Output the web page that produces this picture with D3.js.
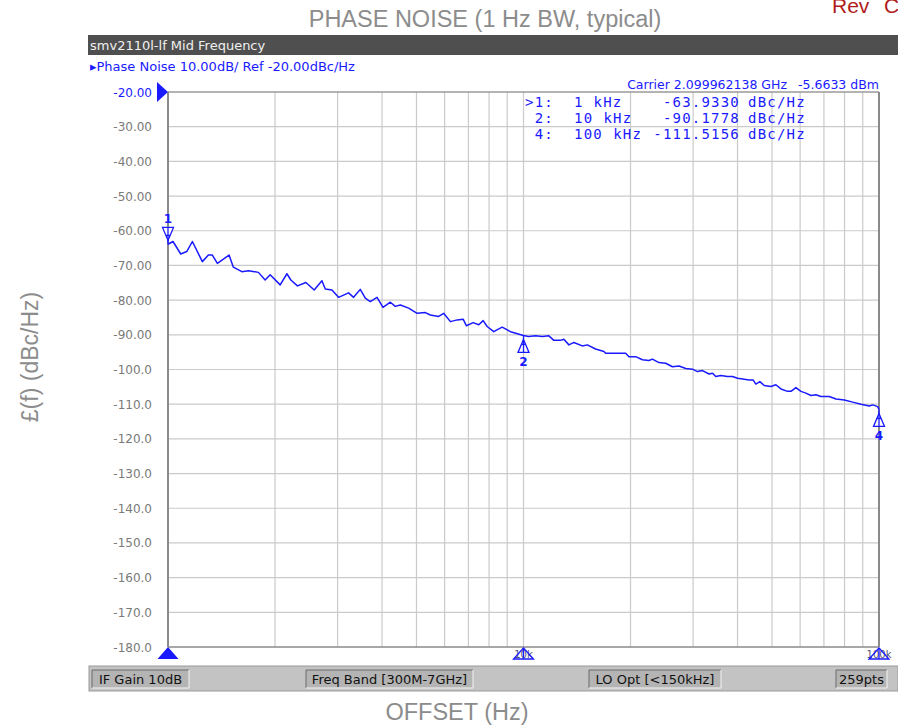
<!DOCTYPE html>
<html>
<head>
<meta charset="utf-8">
<script src="https://cdn.jsdelivr.net/npm/d3@7"></script>
<style>
  html, body { margin: 0; padding: 0; background: #ffffff; }
  svg { display: block; }
</style>
</head>
<body>
<svg id="chart" width="898" height="726"></svg>
<script>
// ---------------- DATA ----------------
const freqHz = [1000,1033,1086,1129,1171,1249,1299,1333,1377,1485,1527,1613,1684,1796,1876,1938,2068,2160,2216,2313,2443,2578,2710,2769,2892,3018,3220,3327,3474,3589,3707,3872,4025,4221,4359,4503,4753,5020,5297,5470,5772,5963,6229,6506,6764,6910,7218,7484,7700,7902,8247,8710,9192,10000,10330,10810,11290,11790,12170,12710,12990,13420,13860,14640,15120,15950,16840,17020,19380,19800,20680,21600,22540,23040,24050,25120,26240,27390,28600,29880,30850,31870,33270,34010,34740,35890,37480,38710,39990,43120,44250,45030,46220,47530,49630,51280,52970,55330,56530,58370,60300,62290,64350,66450,68650,72440,75680,79880,84340,88990,93910,96010,99150,100000];
const phaseNoise = [-63.9,-63.1,-66.7,-66.0,-63.1,-68.9,-67.0,-67.0,-69.4,-67.0,-70.5,-71.8,-71.5,-72.0,-74.2,-72.7,-75.6,-72.4,-74.2,-75.9,-74.9,-77.1,-74.4,-76.8,-77.1,-79.2,-77.9,-79.2,-76.9,-79.4,-80.4,-79.2,-82.1,-80.6,-81.8,-81.4,-82.3,-83.8,-83.6,-84.3,-84.7,-83.8,-86.2,-85.7,-85.5,-87.4,-86.5,-87.1,-85.9,-87.6,-89.1,-87.8,-89.1,-90.2,-90.5,-90.3,-90.5,-90.3,-91.6,-91.6,-91.3,-92.9,-92.2,-93.2,-92.9,-94.1,-94.8,-95.3,-95.3,-96.3,-96.3,-97.2,-97.4,-97.0,-98.0,-98.2,-99.2,-99.0,-99.7,-99.9,-100.6,-100.3,-101.3,-101.1,-102.0,-101.7,-102.0,-102.0,-102.5,-103.0,-103.0,-104.2,-103.5,-104.6,-104.9,-104.4,-105.6,-106.3,-106.3,-105.2,-106.3,-106.8,-107.5,-107.3,-107.8,-107.8,-108.5,-108.8,-109.4,-110.0,-110.5,-110.2,-110.7,-111.5];

const yTicks = [-20,-30,-40,-50,-60,-70,-80,-90,-100,-110,-120,-130,-140,-150,-160,-170,-180];
const yTickLabels = ["-20.00","-30.00","-40.00","-50.00","-60.00","-70.00","-80.00","-90.00","-100.0","-110.0","-120.0","-130.0","-140.0","-150.0","-160.0","-170.0","-180.0"];
const xGridFreqs = [2000,3000,4000,5000,6000,7000,8000,9000,10000,20000,30000,40000,50000,60000,70000,80000,90000];
const xStimFreqs = [1000,10000,100000];
const xStimLabels = ["1k","10k","100k"];

const markerIds = ["1","2","4"];
const markerTableIds = [">1:","2:","4:"];
const markerFreqs = [1000,10000,100000];
const markerFreqNums = ["1","10","100"];
const markerValues = [-63.9330,-90.1778,-111.5156];
const markerValueLabels = ["-63.9330","-90.1778","-111.5156"];

const titleText = "PHASE NOISE (1 Hz BW, typical)";
const revWords = ["Rev", "C"];
const yLabelText = "£(f) (dBc/Hz)";
const xLabelText = "OFFSET (Hz)";
const headerText = "smv2110l-lf Mid Frequency";
const traceText = "\u25B8Phase Noise 10.00dB/ Ref -20.00dBc/Hz";
const carrierText = "Carrier 2.099962138 GHz";
const carrierPower = "-5.6633 dBm";
const statusLabels = ["IF Gain 10dB","Freq Band [300M-7GHz]","LO Opt [<150kHz]","259pts"];

// ---------------- LAYOUT ----------------
const plotL = 168, plotR = 879, plotT = 92, plotB = 647;
const blue = "#1a1aff";
const svg = d3.select("#chart");

const x = d3.scaleLog().domain([1000, 100000]).range([plotL, plotR]);
const y = d3.scaleLinear().domain([-180, -20]).range([plotB, plotT]);

// Title and outer labels
svg.append("text").attr("x", 485).attr("y", 27).attr("text-anchor", "middle")
  .attr("font-family", "Liberation Sans, Arial, sans-serif").attr("font-size", 23.5)
  .attr("fill", "#8c8c8c").text(titleText);
const rev = svg.append("text").attr("y", 13)
  .attr("font-family", "Liberation Sans, Arial, sans-serif").attr("font-size", 21)
  .attr("fill", "#b01c1c");
rev.append("tspan").attr("x", 832).text(revWords[0]);
rev.append("tspan").attr("x", 884).text(revWords[1]);
svg.append("text").attr("transform", "translate(38,357) rotate(-90)").attr("text-anchor", "middle")
  .attr("font-family", "Liberation Sans, Arial, sans-serif").attr("font-size", 23)
  .attr("fill", "#8c8c8c").text(yLabelText);
svg.append("text").attr("x", 457).attr("y", 720).attr("text-anchor", "middle")
  .attr("font-family", "Liberation Sans, Arial, sans-serif").attr("font-size", 23.5)
  .attr("fill", "#8c8c8c").text(xLabelText);

// Header bar
svg.append("rect").attr("x", 88).attr("y", 35).attr("width", 810).attr("height", 20).attr("fill", "#4f4f4f");
svg.append("text").attr("x", 90).attr("y", 49.5)
  .attr("font-family", "DejaVu Sans, sans-serif").attr("font-size", 13).attr("fill", "#f0f0f0").text(headerText);
svg.append("text").attr("x", 90).attr("y", 70.5)
  .attr("font-family", "DejaVu Sans, sans-serif").attr("font-size", 13).attr("fill", blue).text(traceText);

// Grid
const grid = svg.append("g");
grid.selectAll("line.h").data(yTicks.filter(v => v > -180 && v < -20)).enter().append("line")
  .attr("x1", plotL).attr("x2", plotR).attr("y1", d => y(d)).attr("y2", d => y(d))
  .attr("stroke", "#cacaca").attr("stroke-width", 1.2);
grid.selectAll("line.v").data(xGridFreqs).enter().append("line")
  .attr("y1", plotT).attr("y2", plotB).attr("x1", d => x(d)).attr("x2", d => x(d))
  .attr("stroke", "#cacaca").attr("stroke-width", 1.2);

// Frame
svg.append("line").attr("x1", plotL).attr("x2", plotR).attr("y1", plotT).attr("y2", plotT).attr("stroke", "#9a9a9a").attr("stroke-width", 1.5);
svg.append("line").attr("x1", plotL).attr("x2", plotR).attr("y1", plotB).attr("y2", plotB).attr("stroke", "#8a8a8a").attr("stroke-width", 1.5);
svg.append("line").attr("x1", plotL).attr("x2", plotL).attr("y1", plotT).attr("y2", plotB).attr("stroke", "#8a8a8a").attr("stroke-width", 2);
svg.append("line").attr("x1", plotR).attr("x2", plotR).attr("y1", plotT).attr("y2", plotB).attr("stroke", "#8a8a8a").attr("stroke-width", 2);

// Y tick labels
svg.selectAll("text.ytick").data(yTicks).enter().append("text")
  .attr("x", 152).attr("y", d => y(d) + 4.5).attr("text-anchor", "end")
  .attr("font-family", "DejaVu Sans, sans-serif").attr("font-size", 12)
  .attr("fill", (d, i) => i === 0 ? blue : "#7a7a7a")
  .text((d, i) => yTickLabels[i]);

// Reference arrow
svg.append("path").attr("d", `M157,${y(-20) - 10} L168,${y(-20)} L157,${y(-20) + 10} Z`).attr("fill", blue);

// Trace
const pts = freqHz.map((f, i) => [f, phaseNoise[i]]);
const line = d3.line().x(d => x(d[0])).y(d => y(d[1]));
svg.append("path").datum(pts).attr("d", line).attr("fill", "none")
  .attr("stroke", blue).attr("stroke-width", 1.5).attr("stroke-linejoin", "round");

// Markers
markerIds.forEach((id, i) => {
  const mx = x(markerFreqs[i]), my = y(markerValues[i]);
  const g = svg.append("g").attr("fill", "none").attr("stroke", blue).attr("stroke-width", 1.3);
  const dir = i === 0 ? -1 : 1;
  const a = my + dir * 4, b = my + dir * 17;
  g.append("path").attr("d", `M${mx},${a} L${mx + 5.5},${b} L${mx - 5.5},${b} Z`).attr("fill", "#ffffff");
  g.append("line").attr("x1", mx).attr("x2", mx).attr("y1", my).attr("y2", b);
  g.append("line").attr("x1", mx - 2).attr("x2", mx + 2).attr("y1", my + dir * 9).attr("y2", my + dir * 9);
  svg.append("text").attr("x", mx).attr("y", i === 0 ? my - 21 : my + 31).attr("text-anchor", "middle")
    .attr("font-family", "DejaVu Sans, sans-serif").attr("font-size", 12).attr("font-weight", "bold")
    .attr("fill", blue).text(id);
});

// Stimulus markers at the bottom
xStimFreqs.forEach((f, i) => {
  const sx = x(f);
  if (i > 0) {
    svg.append("text").attr("x", sx).attr("y", 658).attr("text-anchor", "middle")
      .attr("font-family", "DejaVu Sans, sans-serif").attr("font-size", 10).attr("fill", "#55557a").text(xStimLabels[i]);
    const g = svg.append("g").attr("fill", "none").attr("stroke", blue).attr("stroke-width", 1.3);
    g.append("path").attr("d", `M${sx},${plotB + 1} L${sx + 10},${plotB + 12} L${sx - 10},${plotB + 12} Z`);
    g.append("line").attr("x1", sx).attr("x2", sx).attr("y1", plotB + 1).attr("y2", plotB + 12);
  } else {
    svg.append("path").attr("d", `M${sx},${plotB} L${sx + 10.5},${plotB + 12} L${sx - 10.5},${plotB + 12} Z`).attr("fill", blue);
  }
});

// Carrier and marker table
svg.append("text").attr("x", 787).attr("y", 89).attr("text-anchor", "end")
  .attr("font-family", "DejaVu Sans, sans-serif").attr("font-size", 12.5).attr("fill", blue).text(carrierText);
svg.append("text").attr("x", 879).attr("y", 89).attr("text-anchor", "end")
  .attr("font-family", "DejaVu Sans, sans-serif").attr("font-size", 12.5).attr("fill", blue).text(carrierPower);

const mono = "DejaVu Sans Mono, monospace";
markerTableIds.forEach((lab, i) => {
  const by = 107 + i * 16;
  const row = svg.append("text").attr("y", by)
    .attr("font-family", mono).attr("font-size", 14).attr("letter-spacing", 1.2).attr("fill", blue);
  row.append("tspan").attr("x", 554).attr("text-anchor", "end").text(lab);
  row.append("tspan").attr("x", 574).attr("text-anchor", "start").text(markerFreqNums[i]);
  row.append("tspan").attr("x", 574 + (markerFreqNums[i].length + 1) * 9.8).attr("text-anchor", "start").text("kHz");
  row.append("tspan").attr("x", 740).attr("text-anchor", "end").text(markerValueLabels[i]);
  row.append("tspan").attr("x", 748).attr("text-anchor", "start").text("dBc/Hz");
});

// Status bar
svg.append("rect").attr("x", 89).attr("y", 666).attr("width", 809).attr("height", 25)
  .attr("fill", "#c3c3c3").attr("stroke", "#9a9a9a").attr("stroke-width", 1);
const boxes = [[92, 189], [306, 473], [589, 721], [836, 887]];
statusLabels.forEach((s, i) => {
  const [b0, b1] = boxes[i];
  svg.append("rect").attr("x", b0).attr("y", 670).attr("width", b1 - b0).attr("height", 18).attr("fill", "#b4b4b4");
  svg.append("path").attr("d", `M${b0},688 L${b0},670 L${b1},670`).attr("fill", "none").attr("stroke", "#6a6a6a").attr("stroke-width", 1);
  svg.append("path").attr("d", `M${b1},670 L${b1},688 L${b0},688`).attr("fill", "none").attr("stroke", "#f4f4f4").attr("stroke-width", 1);
  svg.append("text").attr("x", (b0 + b1) / 2).attr("y", 684).attr("text-anchor", "middle")
    .attr("font-family", "DejaVu Sans, sans-serif").attr("font-size", 13).attr("fill", "#111").text(s);
});
</script>
</body>
</html>
